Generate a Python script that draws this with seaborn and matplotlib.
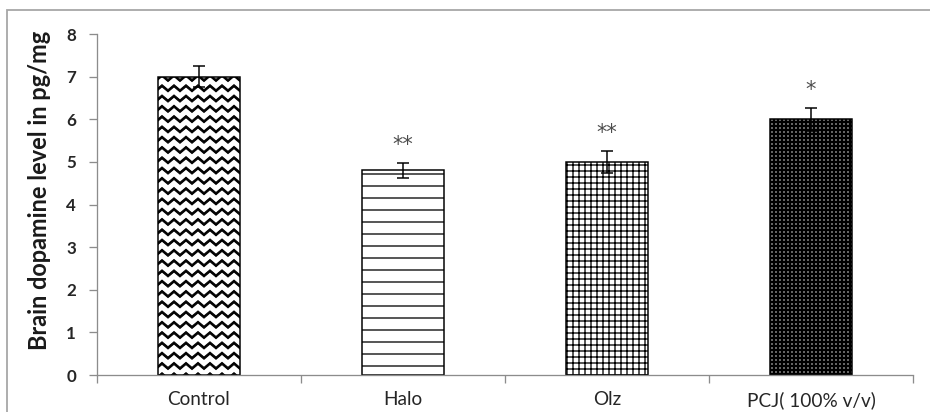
import warnings
import numpy as np
import matplotlib
matplotlib.use("Agg")
import matplotlib.pyplot as plt
from matplotlib import hatch as mhatch
from matplotlib.path import Path
from matplotlib.patches import Rectangle
import seaborn as sns

warnings.filterwarnings("ignore")

# Data
groups = ["Control", "Halo", "Olz", "PCJ( 100% v/v)"]
means = [7.0, 4.8, 5.0, 6.0]
sems = [0.25, 0.17, 0.26, 0.27]
marks = ["", "**", "**", "*"]
yticks = [0, 1, 2, 3, 4, 5, 6, 7, 8]
ylabel = "Brain dopamine level in pg/mg"
patterns = ["z", "-", "++", "+++"]


class ZigZagHatch(mhatch.HatchPatternBase):
    """Filled zigzag bands (herringbone look), selected with the 'z' character."""
    rows = 7
    periods = 6
    amp = 0.07
    thick = 0.03

    def __init__(self, hatch, density):
        self.per_line = 2 * self.periods + 1
        if "z" in hatch:
            self.num_vertices = self.rows * (2 * self.per_line + 1)
        else:
            self.num_vertices = 0

    def set_vertices_and_codes(self, vertices, codes):
        n = self.per_line
        xs = np.linspace(0, 1, n)
        bump = (np.arange(n) % 2) * self.amp
        i = 0
        for r in range(self.rows):
            y0 = r / self.rows + 0.01
            # lower edge left -> right, upper edge right -> left, then close
            vertices[i:i + n, 0] = xs
            vertices[i:i + n, 1] = y0 + bump
            vertices[i + n:i + 2 * n, 0] = xs[::-1]
            vertices[i + n:i + 2 * n, 1] = (y0 + self.thick + bump)[::-1]
            vertices[i + 2 * n] = vertices[i]
            codes[i] = Path.MOVETO
            codes[i + 1:i + 2 * n] = Path.LINETO
            codes[i + 2 * n] = Path.CLOSEPOLY
            i += 2 * n + 1


mhatch._hatch_types.append(ZigZagHatch)

sns.set_theme(style="white")
plt.rcParams["font.family"] = ["Lato", "DejaVu Sans"]
plt.rcParams["hatch.linewidth"] = 1.3

DPI = 72
fig = plt.figure(figsize=(930 / DPI, 412 / DPI), dpi=DPI)
fig.patch.set_facecolor("white")
ax = fig.add_axes([97 / 930, 37 / 412, 816 / 930, 341 / 412])

sns.barplot(x=groups, y=means, width=0.4, color="white", saturation=1,
            edgecolor="black", linewidth=1.5, errorbar=None, ax=ax)

for patch, pat in zip(ax.patches, patterns):
    patch.set_hatch(pat)
    patch.set_edgecolor("black")
    if hasattr(patch, "set_hatch_linewidth"):
        if pat == "+++":
            patch.set_hatch_linewidth(2.6)
        elif pat == "z":
            patch.set_hatch_linewidth(1.0)

xpos = np.arange(len(groups))
ax.errorbar(xpos, means, yerr=sems, fmt="none", ecolor="black",
            elinewidth=1.5, capsize=6, capthick=1.5, zorder=5)

for x, m, s, t in zip(xpos, means, sems, marks):
    if t:
        ax.text(x, m + s + 0.42, t, ha="center", va="center",
                fontsize=21, color="#4d4d4d", family="DejaVu Sans")

axis_gray = "#8c8c8c"
ax.set_ylim(0, 8)
ax.set_yticks(yticks)
ax.set_xlim(-0.5, len(groups) - 0.5)
ax.set_xticks(xpos)
ax.set_xticklabels(groups)
ax.set_xticks(np.arange(len(groups) + 1) - 0.5, minor=True)

for side in ("top", "right"):
    ax.spines[side].set_visible(False)
for side in ("left", "bottom"):
    ax.spines[side].set_color(axis_gray)
    ax.spines[side].set_linewidth(1.3)

ax.tick_params(axis="y", which="major", direction="out", length=8, width=1.3,
               color=axis_gray, labelsize=17, labelcolor="#262626", pad=13,
               left=True)
for lbl in ax.get_yticklabels():
    lbl.set_fontweight("bold")
ax.tick_params(axis="x", which="major", length=0, labelsize=19,
               labelcolor="#262626", pad=16)
ax.tick_params(axis="x", which="minor", direction="out", length=8, width=1.3,
               color=axis_gray, bottom=True)

ax.set_ylabel(ylabel, fontsize=23.5, fontweight="bold", color="#1a1a1a")
ax.yaxis.set_label_coords(-0.056, 0.54)
ax.set_xlabel("")
ax.grid(False)

# Chart frame
fig.add_artist(Rectangle((7 / 930, -0.1), 1.2, 1.1 - 10 / 412,
                         transform=fig.transFigure, fill=False,
                         edgecolor="#a6a6a6", linewidth=1.8))

fig.savefig("out.png", dpi=DPI, facecolor="white")
